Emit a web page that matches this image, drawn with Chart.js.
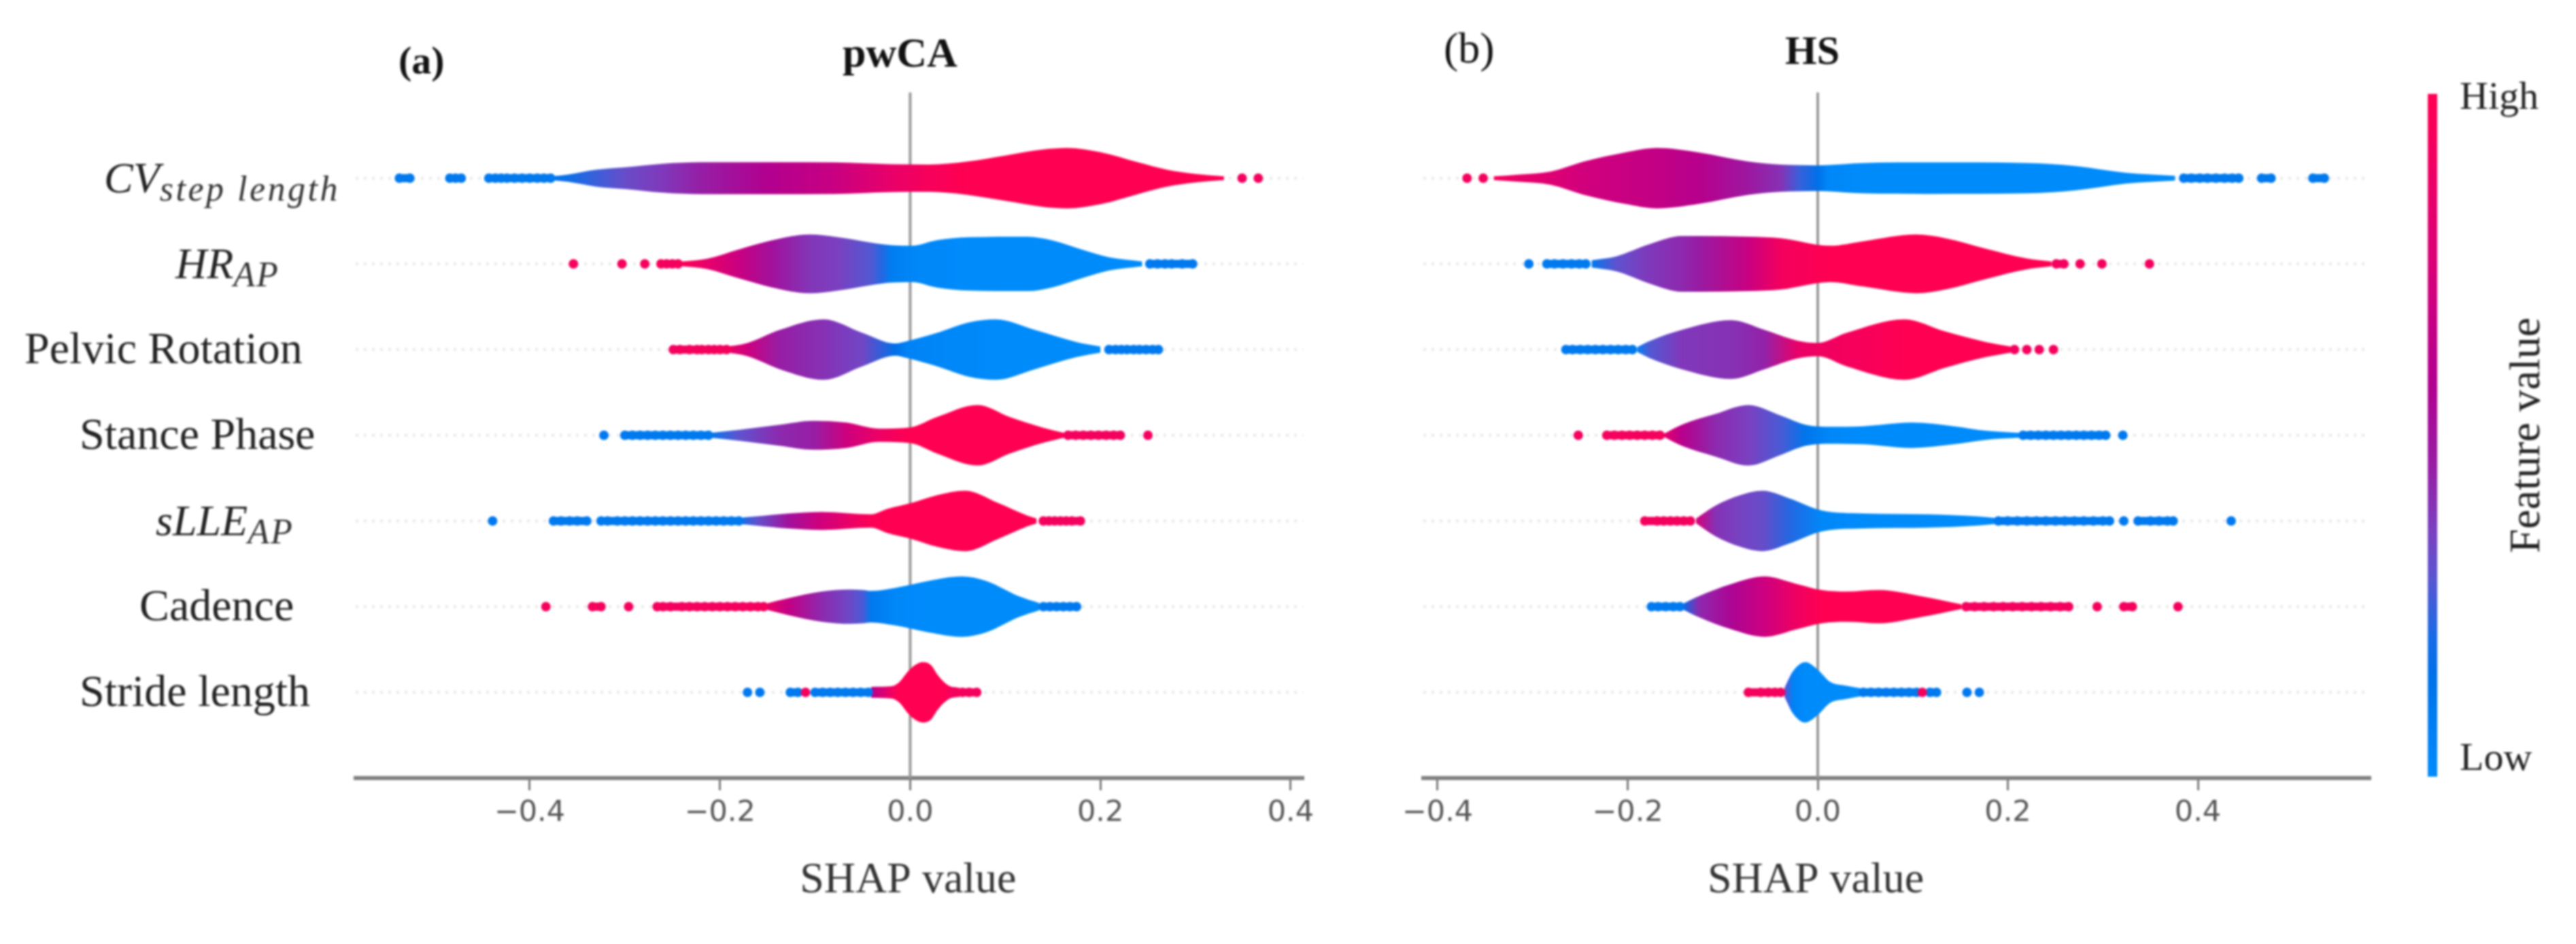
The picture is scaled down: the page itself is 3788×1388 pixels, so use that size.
<!DOCTYPE html>
<html>
<head>
<meta charset="utf-8">
<style>
  html, body { margin: 0; padding: 0; background: #fff; }
  body { width: 3788px; height: 1388px; position: relative; overflow: hidden; }
  canvas { position: absolute; top: 0; filter: blur(1.4px); }
  #chartA { left: 0; }
  #chartB { left: 2000px; }
  #chartBar { left: 3540px; }
</style>
<script src="https://cdn.jsdelivr.net/npm/chart.js@4/dist/chart.umd.js"></script>
</head>
<body>
<canvas id="chartA" width="1960" height="1388"></canvas>
<canvas id="chartB" width="1520" height="1388"></canvas>
<canvas id="chartBar" width="248" height="1388"></canvas>
<script>
// row labels, top to bottom
const rowBase = ['CV', 'HR', 'Pelvic Rotation', 'Stance Phase', 'sLLE', 'Cadence', 'Stride length'];
const rowSub = ['step length', 'AP', '', '', 'AP', '', ''];
const tickValues = [-0.4, -0.2, 0, 0.2, 0.4];

// pwCA violins: shap value, relative thickness, feature value
const pwcaX = [
  [-0.378, -0.36, -0.33, -0.30, -0.26, -0.22, -0.15, -0.08, -0.02, 0.02, 0.06, 0.10, 0.14, 0.165, 0.2, 0.24, 0.27, 0.30, 0.33],
  [-0.24, -0.214, -0.18, -0.145, -0.106, -0.076, -0.041, -0.03, -0.02, 0.002, 0.028, 0.062, 0.123, 0.149, 0.183, 0.209, 0.244],
  [-0.197, -0.171, -0.137, -0.091, -0.05, -0.016, -0.003, 0.028, 0.062, 0.09, 0.131, 0.175, 0.2],
  [-0.21, -0.18, -0.137, -0.102, -0.067, -0.033, 0, 0.028, 0.071, 0.105, 0.14, 0.162],
  [-0.18, -0.162, -0.128, -0.093, -0.041, -0.024, 0.002, 0.028, 0.058, 0.092, 0.123, 0.133],
  [-0.154, -0.128, -0.093, -0.063, -0.05, -0.041, -0.016, 0.019, 0.054, 0.08, 0.114, 0.136],
  [-0.041, -0.02, -0.012, -0.002, 0.005, 0.0135, 0.022, 0.028, 0.035, 0.042, 0.05]
];
const pwcaW = [
  [0.06, 0.12, 0.28, 0.36, 0.48, 0.53, 0.53, 0.52, 0.46, 0.45, 0.55, 0.75, 0.95, 1, 0.86, 0.52, 0.28, 0.14, 0.06],
  [0.08, 0.17, 0.48, 0.78, 0.97, 0.88, 0.7, 0.65, 0.62, 0.6, 0.78, 0.88, 0.9, 0.78, 0.45, 0.22, 0.08],
  [0.08, 0.22, 0.65, 1, 0.55, 0.2, 0.28, 0.55, 0.9, 1, 0.65, 0.25, 0.1],
  [0.08, 0.18, 0.35, 0.48, 0.42, 0.22, 0.26, 0.6, 1, 0.6, 0.25, 0.08],
  [0.1, 0.15, 0.25, 0.3, 0.22, 0.4, 0.6, 0.85, 1, 0.6, 0.18, 0.08],
  [0.08, 0.28, 0.5, 0.57, 0.55, 0.52, 0.62, 0.85, 1, 0.85, 0.35, 0.12],
  [0.18, 0.2, 0.32, 0.7, 0.9, 1, 0.9, 0.62, 0.36, 0.2, 0.16]
];
const pwcaC = [
  [0.12, 0.18, 0.25, 0.32, 0.38, 0.45, 0.58, 0.68, 0.85, 0.95, 1, 1, 1, 1, 1, 1, 1, 1, 1],
  [0.98, 0.85, 0.68, 0.5, 0.39, 0.36, 0.28, 0.22, 0.08, 0.03, 0.02, 0, 0, 0, 0, 0, 0],
  [0.95, 0.7, 0.45, 0.4, 0.34, 0.15, 0.05, 0.03, 0.02, 0, 0, 0, 0],
  [0.1, 0.3, 0.42, 0.45, 0.7, 0.88, 1, 1, 1, 1, 1, 1],
  [0.12, 0.3, 0.5, 0.72, 0.98, 1, 1, 1, 1, 1, 1, 1],
  [0.9, 0.65, 0.42, 0.33, 0.27, 0.1, 0.02, 0, 0, 0, 0, 0],
  [0.6, 0.9, 1, 1, 1, 1, 1, 1, 1, 0.95, 0.85]
];
// pwCA single dots in the tails
const pwcaDotLow = [
  [-0.537, -0.526, -0.484, -0.478, -0.472, -0.443, -0.436, -0.43, -0.424, -0.416, -0.408, -0.4, -0.392, -0.385, -0.378],
  [0.252, 0.26, 0.268, 0.275, 0.286, 0.297],
  [0.209, 0.216, 0.222, 0.228, 0.235, 0.241, 0.248, 0.255, 0.261],
  [-0.322, -0.3, -0.292, -0.284, -0.276, -0.268, -0.26, -0.252, -0.244, -0.236, -0.228, -0.22, -0.212],
  [-0.439, -0.375, -0.367, -0.358, -0.35, -0.34, -0.325, -0.318, -0.308, -0.3, -0.292, -0.284, -0.276, -0.268, -0.26, -0.252, -0.244, -0.236, -0.228, -0.22, -0.212, -0.204, -0.196, -0.188, -0.18],
  [0.14, 0.147, 0.154, 0.161, 0.168, 0.175],
  [-0.171, -0.158, -0.126, -0.118, -0.1, -0.092, -0.084, -0.076, -0.068, -0.06, -0.052, -0.044]
];
const pwcaDotHigh = [
  [0.349, 0.366],
  [-0.354, -0.303, -0.279, -0.262, -0.256, -0.25, -0.244],
  [-0.249, -0.242, -0.232, -0.224, -0.219, -0.212, -0.206, -0.2, -0.193],
  [0.166, 0.174, 0.182, 0.19, 0.198, 0.206, 0.214, 0.221, 0.25],
  [0.14, 0.146, 0.152, 0.158, 0.164, 0.17, 0.179],
  [-0.383, -0.334, -0.325, -0.296, -0.266, -0.26, -0.252, -0.24, -0.232, -0.224, -0.216, -0.208, -0.2, -0.192, -0.184, -0.176, -0.168, -0.16, -0.154],
  [-0.11, 0.05, 0.055, 0.062, 0.07]
];

// HS violins
const hsX = [
  [-0.341, -0.315, -0.281, -0.246, -0.203, -0.169, -0.125, -0.073, -0.039, -0.02, 0, 0.01, 0.048, 0.117, 0.22, 0.272, 0.324, 0.376],
  [-0.238, -0.212, -0.177, -0.143, -0.125, -0.073, -0.039, 0.013, 0.048, 0.104, 0.134, 0.177, 0.22, 0.246],
  [-0.19, -0.177, -0.143, -0.091, -0.056, -0.022, 0, 0.03, 0.091, 0.134, 0.177, 0.203],
  [-0.162, -0.143, -0.108, -0.073, -0.039, -0.013, 0.013, 0.048, 0.099, 0.143, 0.177, 0.212],
  [-0.128, -0.108, -0.082, -0.058, -0.03, 0.004, 0.048, 0.117, 0.168, 0.186],
  [-0.143, -0.125, -0.091, -0.056, -0.022, 0.004, 0.03, 0.065, 0.108, 0.151],
  [-0.035, -0.026, -0.013, 0, 0.013, 0.03, 0.048]
];
const hsW = [
  [0.06, 0.12, 0.22, 0.55, 0.85, 1, 0.85, 0.55, 0.45, 0.43, 0.42, 0.43, 0.5, 0.52, 0.5, 0.4, 0.18, 0.08],
  [0.12, 0.25, 0.65, 0.92, 0.92, 0.9, 0.85, 0.6, 0.75, 0.97, 0.85, 0.5, 0.18, 0.08],
  [0.08, 0.28, 0.65, 0.97, 0.65, 0.3, 0.22, 0.55, 1, 0.6, 0.25, 0.1],
  [0.05, 0.35, 0.7, 1, 0.65, 0.35, 0.28, 0.3, 0.42, 0.3, 0.15, 0.08],
  [0.08, 0.5, 0.85, 1, 0.75, 0.35, 0.25, 0.22, 0.15, 0.1],
  [0.08, 0.35, 0.75, 1, 0.75, 0.55, 0.5, 0.55, 0.35, 0.08],
  [0.15, 0.7, 1, 0.75, 0.35, 0.22, 0.12]
];
const hsC = [
  [0.95, 0.85, 0.78, 0.72, 0.68, 0.65, 0.6, 0.48, 0.4, 0.25, 0.15, 0.03, 0, 0, 0, 0, 0, 0],
  [0.1, 0.3, 0.38, 0.42, 0.46, 0.68, 0.92, 1, 1, 1, 1, 1, 1, 1],
  [0.05, 0.28, 0.38, 0.4, 0.44, 0.85, 0.9, 0.93, 1, 1, 1, 1],
  [0.85, 0.6, 0.42, 0.36, 0.27, 0.12, 0.02, 0, 0, 0, 0, 0],
  [0.75, 0.4, 0.35, 0.32, 0.22, 0.02, 0, 0, 0, 0.02],
  [0.15, 0.42, 0.55, 0.7, 0.9, 1, 1, 1, 1, 1],
  [0.3, 0.05, 0, 0, 0, 0, 0]
];
const hsDotLow = [
  [0.385, 0.393, 0.402, 0.41, 0.419, 0.428, 0.436, 0.443, 0.467, 0.477, 0.521, 0.533],
  [-0.304, -0.285, -0.277, -0.268, -0.259, -0.251, -0.244],
  [-0.265, -0.258, -0.25, -0.242, -0.234, -0.226, -0.218, -0.21, -0.202, -0.195],
  [0.216, 0.224, 0.232, 0.24, 0.248, 0.256, 0.264, 0.272, 0.28, 0.288, 0.296, 0.303, 0.321],
  [0.19, 0.2, 0.21, 0.22, 0.23, 0.24, 0.25, 0.26, 0.27, 0.28, 0.29, 0.3, 0.307, 0.322, 0.337, 0.35, 0.359, 0.368, 0.374, 0.435],
  [-0.175, -0.168, -0.16, -0.152, -0.145],
  [0.048, 0.056, 0.064, 0.072, 0.08, 0.088, 0.096, 0.104, 0.118, 0.125, 0.157, 0.17]
];
const hsDotHigh = [
  [-0.369, -0.352],
  [0.251, 0.259, 0.276, 0.299, 0.349],
  [0.207, 0.22, 0.233, 0.248],
  [-0.252, -0.222, -0.214, -0.206, -0.198, -0.19, -0.182, -0.174, -0.166],
  [-0.182, -0.169, -0.162, -0.155, -0.148, -0.141, -0.134],
  [0.156, 0.165, 0.175, 0.185, 0.195, 0.205, 0.215, 0.225, 0.235, 0.245, 0.255, 0.264, 0.294, 0.322, 0.331, 0.379],
  [-0.073, -0.06, -0.052, -0.045, -0.039, 0.11]
];

// colormap stops, low to high feature value
const mapStops = [0, 0.15, 0.2, 0.29, 0.36, 0.45, 0.57, 0.75, 1];
const mapColors = [
  [0, 139, 251], [0, 112, 232], [20, 108, 230], [90, 85, 208], [122, 64, 192],
  [150, 30, 165], [176, 0, 144], [216, 0, 120], [255, 0, 82]
];

const SERIF = '"Liberation Serif", serif';
const VIOLIN_HALF = 0.353;
const RUN_GAP = 0.013; // dots closer than this merge into a solid run

Chart.defaults.animation = false;
Chart.defaults.responsive = false;
Chart.defaults.devicePixelRatio = 1;

function featureColor(v) {
  let i = 0;
  while (i < mapStops.length - 2 && v > mapStops[i + 1]) i++;
  const t = (v - mapStops[i]) / (mapStops[i + 1] - mapStops[i]);
  const c = mapColors[i].map((a, k) => Math.round(a + (mapColors[i + 1][k] - a) * t));
  return `rgb(${c[0]}, ${c[1]}, ${c[2]})`;
}

function violinFill(xs, cs) {
  return (ctx) => {
    const scale = ctx.chart.scales.x;
    if (!scale || !ctx.chart.chartArea) return 'transparent';
    const first = xs[0];
    const last = xs[xs.length - 1];
    const g = ctx.chart.ctx.createLinearGradient(scale.getPixelForValue(first), 0, scale.getPixelForValue(last), 0);
    xs.forEach((x, i) => g.addColorStop((x - first) / (last - first), featureColor(cs[i])));
    return g;
  };
}

function dotDataset(label, xs, row, color) {
  return {
    label,
    data: xs.map((x) => ({ x, y: row })),
    showLine: true,
    borderWidth: 12,
    borderColor: color,
    segment: { borderColor: (ctx) => (ctx.p1.parsed.x - ctx.p0.parsed.x > RUN_GAP ? 'transparent' : color) },
    pointRadius: 7,
    pointBorderWidth: 0,
    pointBackgroundColor: color
  };
}

function buildDatasets(xs, ws, cs, dotLow, dotHigh, xMin, xMax) {
  const front = [];
  const back = [];
  rowBase.forEach((name, row) => {
    front.push(dotDataset(name + ' dots high', dotHigh[row], row, featureColor(0.93)));
    front.push(dotDataset(name + ' dots low', dotLow[row], row, featureColor(0.1)));
    front.push({
      label: name,
      data: xs[row].map((x, i) => ({ x, y: row - ws[row][i] * VIOLIN_HALF })),
      showLine: true,
      fill: '+1',
      cubicInterpolationMode: 'monotone',
      borderWidth: 0,
      pointRadius: 0,
      backgroundColor: violinFill(xs[row], cs[row])
    });
    front.push({
      label: name + ' lower',
      data: xs[row].map((x, i) => ({ x, y: row + ws[row][i] * VIOLIN_HALF })),
      showLine: true,
      cubicInterpolationMode: 'monotone',
      borderWidth: 0,
      pointRadius: 0
    });
    back.push({
      label: name + ' guide',
      data: [{ x: xMin, y: row }, { x: xMax, y: row }],
      showLine: true,
      borderColor: '#e9e9e9',
      borderWidth: 4,
      borderDash: [4, 8],
      pointRadius: 0
    });
  });
  back.push({
    label: 'zero',
    data: [{ x: 0, y: -1 }, { x: 0, y: 7 }],
    showLine: true,
    borderColor: '#999999',
    borderWidth: 4,
    pointRadius: 0
  });
  return front.concat(back);
}

function putText(ctx, text, x, y, font, color, align) {
  ctx.font = font;
  ctx.fillStyle = color;
  ctx.textAlign = align || 'left';
  ctx.textBaseline = 'alphabetic';
  ctx.fillText(text, x, y);
}

// row labels sit at the left of panel (a), left edges
const rowLeft = [153, 258, 36, 117, 229, 205, 117];

const rowLabelPlugin = {
  id: 'rowLabels',
  afterDraw(chart) {
    const { ctx, scales } = chart;
    ctx.save();
    rowBase.forEach((name, row) => {
      const yc = scales.y.getPixelForValue(row);
      if (rowSub[row]) {
        const font = `italic 64px ${SERIF}`;
        putText(ctx, name, rowLeft[row], yc + 21, font, '#222');
        const w = ctx.measureText(name).width;
        ctx.letterSpacing = row === 0 ? '3.5px' : '2px';
        putText(ctx, rowSub[row], rowLeft[row] + w, yc + 33, `italic 52px ${SERIF}`, '#333');
        ctx.letterSpacing = '0px';
      } else {
        putText(ctx, name, rowLeft[row], yc + 20, `66px ${SERIF}`, '#222');
      }
    });
    ctx.restore();
  }
};

const panelTextPlugin = {
  id: 'panelText',
  afterDraw(chart, args, opts) {
    const { ctx, scales } = chart;
    const zero = scales.x.getPixelForValue(0);
    ctx.save();
    putText(ctx, opts.tag, opts.tagX, opts.tagY, opts.tagFont, '#111');
    putText(ctx, opts.title, zero + opts.titleDx, opts.titleY, `bold ${opts.titleSize}px ${SERIF}`, '#111', 'center');
    putText(ctx, 'SHAP value', zero - 3, 1312, `64px ${SERIF}`, '#333', 'center');
    ctx.restore();
  }
};

function buildPanel(id, datasets, xMin, xMax, padding, plugins, textOpts) {
  return new Chart(document.getElementById(id), {
    type: 'scatter',
    data: { datasets },
    plugins,
    options: {
      layout: { padding },
      plugins: { legend: { display: false }, tooltip: { enabled: false }, panelText: textOpts },
      scales: {
        x: {
          type: 'linear',
          min: xMin,
          max: xMax,
          afterBuildTicks: (s) => { s.ticks = tickValues.map((value) => ({ value })); },
          afterFit: (s) => { s.height = 244; },
          border: { color: '#808080', width: 6 },
          grid: { drawOnChartArea: false, color: '#777777', lineWidth: 3, tickLength: 18 },
          ticks: {
            color: '#555555',
            padding: 8,
            maxRotation: 0,
            font: { family: 'DejaVu Sans', size: 43 },
            callback: (v) => (v < 0 ? '\u2212' : '') + Math.abs(v).toFixed(1)
          }
        },
        y: { type: 'linear', display: false, reverse: true, min: -1, max: 7 }
      }
    }
  });
}

const xA = [-0.583, 0.413];
const xB = [-0.415, 0.581];

buildPanel('chartA', buildDatasets(pwcaX, pwcaW, pwcaC, pwcaDotLow, pwcaDotHigh, xA[0], xA[1]), xA[0], xA[1],
  { left: 523, right: 44, top: 136, bottom: 0 }, [rowLabelPlugin, panelTextPlugin],
  { tag: '(a)', tagX: 586, tagY: 108, tagFont: `bold 58px ${SERIF}`, title: 'pwCA', titleDx: -15, titleY: 98, titleSize: 62 });

buildPanel('chartB', buildDatasets(hsX, hsW, hsC, hsDotLow, hsDotHigh, xB[0], xB[1]), xB[0], xB[1],
  { left: 93, right: 35, top: 136, bottom: 0 }, [panelTextPlugin],
  { tag: '(b)', tagX: 123, tagY: 92, tagFont: `64px ${SERIF}`, title: 'HS', titleDx: -8, titleY: 94, titleSize: 60 });

// colour bar
const barLabelPlugin = {
  id: 'barLabels',
  afterDraw(chart) {
    const { ctx } = chart;
    ctx.save();
    putText(ctx, 'High', 77, 160, `58px ${SERIF}`, '#222');
    putText(ctx, 'Low', 77, 1132, `58px ${SERIF}`, '#222');
    ctx.translate(194, 640);
    ctx.rotate(-Math.PI / 2);
    putText(ctx, 'Feature value', 0, 0, `64px ${SERIF}`, '#222', 'center');
    ctx.restore();
  }
};

new Chart(document.getElementById('chartBar'), {
  type: 'bar',
  data: {
    labels: ['Feature value'],
    datasets: [{
      data: [[0, 1]],
      barPercentage: 1,
      categoryPercentage: 1,
      backgroundColor: (ctx) => {
        const scale = ctx.chart.scales.y;
        if (!scale || !ctx.chart.chartArea) return 'transparent';
        const g = ctx.chart.ctx.createLinearGradient(0, scale.getPixelForValue(0), 0, scale.getPixelForValue(1));
        mapStops.forEach((v) => g.addColorStop(v, featureColor(v)));
        return g;
      }
    }]
  },
  plugins: [barLabelPlugin],
  options: {
    layout: { padding: { left: 30, right: 204, top: 138, bottom: 246 } },
    plugins: { legend: { display: false }, tooltip: { enabled: false } },
    scales: {
      x: { display: false },
      y: { display: false, min: 0, max: 1 }
    }
  }
});
</script>
</body>
</html>
